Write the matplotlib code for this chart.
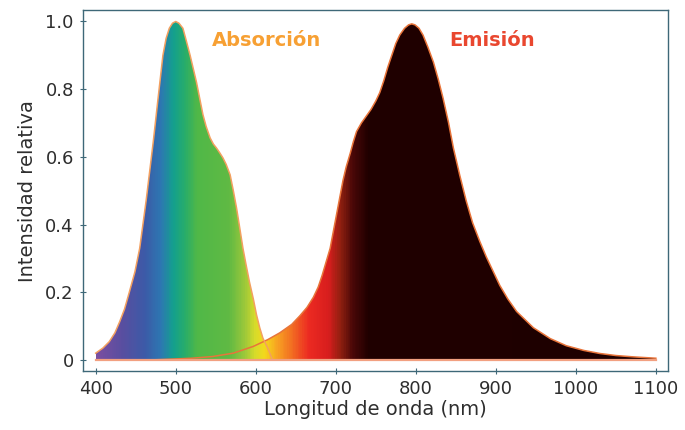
import numpy as np
import matplotlib
matplotlib.use("Agg")
import matplotlib.pyplot as plt
from matplotlib.colors import LinearSegmentedColormap

# absorption spectrum (nm, relative intensity)
abs_nm = [400, 409, 417, 424, 430, 436, 442, 449, 455, 463, 472, 478, 484, 488, 492, 496, 500,
          504, 509, 513, 518, 526, 534, 538, 543, 547, 551, 555, 559, 563, 568, 572, 576,
          580, 584, 588, 592, 597, 601, 605, 609, 615, 621]
abs_y = [0.02, 0.035, 0.054, 0.08, 0.113, 0.15, 0.2, 0.26, 0.33, 0.47, 0.646, 0.774, 0.90, 0.95, 0.98, 0.995, 1.0,
         0.995, 0.98, 0.945, 0.90, 0.82, 0.725, 0.69, 0.656, 0.638, 0.626, 0.612, 0.597, 0.578, 0.547, 0.50, 0.449,
         0.39, 0.33, 0.28, 0.232, 0.18, 0.133, 0.095, 0.064, 0.035, 0.0]

# emission spectrum (nm, relative intensity)
em_nm = [470, 520, 546, 572, 597, 615, 630, 645, 655, 664, 672, 678, 683, 688, 693, 697, 701,
         705, 709, 713, 718, 722, 726, 732, 738, 744, 750, 755, 760, 765, 770, 775, 780, 786, 791, 795,
         799, 804, 809, 815, 822, 828, 834, 841, 847, 855, 863, 871, 880, 888, 897, 905, 915, 926,
         947, 968, 988, 1010, 1030, 1050, 1072, 1100]
em_y = [0.0, 0.005, 0.01, 0.02, 0.04, 0.06, 0.08, 0.105, 0.13, 0.155, 0.185, 0.215, 0.25, 0.29, 0.33, 0.38, 0.43,
        0.48, 0.53, 0.57, 0.61, 0.645, 0.675, 0.70, 0.72, 0.74, 0.765, 0.79, 0.825, 0.865, 0.90, 0.935, 0.96, 0.98, 0.99, 0.993,
        0.99, 0.98, 0.96, 0.925, 0.88, 0.83, 0.774, 0.70, 0.626, 0.545, 0.47, 0.405, 0.35, 0.305, 0.26, 0.22, 0.18, 0.143,
        0.095, 0.063, 0.042, 0.028, 0.019, 0.013, 0.009, 0.005]

xticks = [400, 500, 600, 700, 800, 900, 1000, 1100]
yticks = [0, 0.2, 0.4, 0.6, 0.8, 1.0]
ytick_labels = ["0", "0.2", "0.4", "0.6", "0.8", "1.0"]

# spectral colour stops
stops_nm = [400, 430, 460, 480, 495, 510, 525, 565, 585, 598, 610, 625, 645, 665, 690, 705, 720, 740, 1100]
stops_col = ["#7a4fa0", "#5a4ea0", "#3c5ba8", "#2d78b2", "#14a08e", "#28ad6a", "#50b848", "#60ba44",
             "#9cc83a", "#d8dc2a", "#f5d81c", "#f8a422", "#f26a22", "#ec2a22", "#d81e1e", "#902010",
             "#4a0808", "#200000", "#1e0000"]

x0, x1 = 400, 1100
cmap = LinearSegmentedColormap.from_list(
    "spec", [((n - x0) / (x1 - x0), c) for n, c in zip(stops_nm, stops_col)])

fig, ax = plt.subplots(figsize=(6.85, 4.30), dpi=100)
fig.subplots_adjust(left=0.121, right=0.975, top=0.976, bottom=0.137)

grad = np.linspace(0, 1, 700).reshape(1, -1)
for nm, yy in [(abs_nm, abs_y), (em_nm, em_y)]:
    poly = ax.fill_between(nm, 0, yy, color="none")
    im = ax.imshow(grad, cmap=cmap, extent=[x0, x1, 0, 1.01], aspect="auto",
                   interpolation="bilinear", zorder=1)
    im.set_clip_path(poly.get_paths()[0], transform=ax.transData)

ax.plot(em_nm, em_y, color="#e8743a", lw=1.1, zorder=3)
ax.plot(abs_nm, abs_y, color="#f3a060", lw=1.1, zorder=3)
ax.plot([400, 1100], [0, 0], color="#f2a080", lw=1.6, zorder=3)

ax.text(614, 0.945, "Absorción", color="#f7a033", fontsize=14, fontweight="bold",
        ha="center", va="center")
ax.text(895, 0.945, "Emisión", color="#e9472f", fontsize=14, fontweight="bold",
        ha="center", va="center")

ax.set_xlim(384, 1115)
ax.set_ylim(-0.033, 1.033)
ax.set_xticks(xticks)
ax.set_yticks(yticks)
ax.set_yticklabels(ytick_labels)
ax.tick_params(direction="inout", length=5, width=0.8, color="#3e6878",
               labelsize=13, labelcolor="#2e2e2e", pad=4)
for s in ax.spines.values():
    s.set_color("#3e6878")
    s.set_linewidth(1.0)

ax.set_xlabel("Longitud de onda (nm)", fontsize=14, color="#2e2e2e", labelpad=1)
ax.set_ylabel("Intensidad relativa", fontsize=14, color="#2e2e2e", labelpad=6)

fig.savefig("out.png", dpi=100)
